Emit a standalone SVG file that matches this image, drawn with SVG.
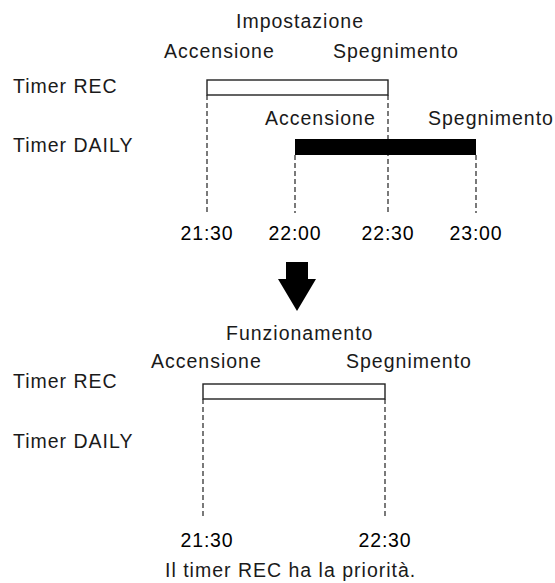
<svg xmlns="http://www.w3.org/2000/svg" width="555" height="583" viewBox="0 0 555 583">
<style>
text{font-family:"Liberation Sans",Arial,sans-serif;font-size:19.5px;fill:#1a1a1a;letter-spacing:1px}
.m{text-anchor:middle}
.t{fill:#000;letter-spacing:0.8px}
.d{stroke:#222;stroke-width:1.2;stroke-dasharray:5,3;fill:none}
.box{fill:#fff;stroke:#222;stroke-width:1.4}
</style>
<rect width="555" height="583" fill="#fff"/>
<g id="labels-top">
<text x="13" y="93">Timer REC</text>
<text x="13" y="152">Timer DAILY</text>
<text x="236" y="28">Impostazione</text>
<text x="164" y="58">Accensione</text>
<text x="333" y="58">Spegnimento</text>
<text x="265" y="125">Accensione</text>
<text x="428" y="125">Spegnimento</text>
</g>
<g id="connectors">
<line class="d" x1="207" y1="95" x2="207" y2="213"/>
<line class="d" x1="388" y1="95" x2="388" y2="213"/>
<line class="d" x1="295" y1="155" x2="295" y2="213"/>
<line class="d" x1="476" y1="155" x2="476" y2="213"/>
<line class="d" x1="203" y1="399" x2="203" y2="518"/>
<line class="d" x1="385" y1="399" x2="385" y2="518"/>
</g>
<g id="rec-top"><rect class="box" x="207" y="80" width="181" height="15"/></g>
<g id="daily-top"><rect x="295" y="139" width="181" height="16" fill="#000"/></g>
<g id="times-top">
<text class="m t" x="207" y="240">21:30</text>
<text class="m t" x="295" y="240">22:00</text>
<text class="m t" x="388" y="240">22:30</text>
<text class="m t" x="476" y="240">23:00</text>
</g>
<g id="arrow"><polygon points="286,262 308,262 308,279 316,279 297,311 278,279 286,279" fill="#000"/></g>
<g id="labels-bottom">
<text x="13" y="388">Timer REC</text>
<text x="13" y="448">Timer DAILY</text>
<text x="226" y="340">Funzionamento</text>
<text x="151" y="368">Accensione</text>
<text x="346" y="368">Spegnimento</text>
</g>
<g id="rec-bottom"><rect class="box" x="203" y="384" width="182" height="15"/></g>
<g id="times-bottom">
<text class="m t" x="207" y="547">21:30</text>
<text class="m t" x="385" y="547">22:30</text>
</g>
<g id="caption"><text x="165" y="577">Il timer REC ha la priorità.</text></g>
</svg>
